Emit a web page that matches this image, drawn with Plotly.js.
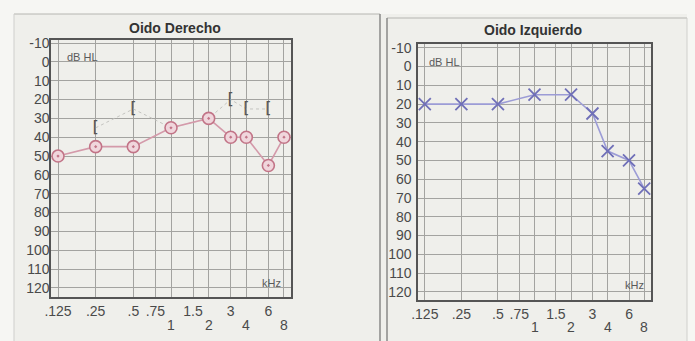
<!DOCTYPE html>
<html>
<head>
<meta charset="utf-8">
<script src="https://cdn.plot.ly/plotly-3.0.1.min.js"></script>
<style>html,body{margin:0;padding:0;background:#f6f6f3;}</style>
</head>
<body>
<div id="chart" style="width:695px;height:341px;"></div>
<script>
// ---- data ----
const freqKHz = [0.125, 0.25, 0.5, 1, 2, 3, 4, 6, 8];
const rightAir = [50, 45, 45, 35, 30, 40, 40, 55, 40];      // Oido Derecho (O)
const rightBoneFreq = [0.25, 0.5, 1, 2, 3, 4, 6];
const rightBone = [35, 25, 35, 30, 20, 25, 25];             // bone conduction ([)
const rightBoneSymbol = ['[', '[', '', '', '[', '[', '['];
const leftAir = [20, 20, 20, 15, 15, 25, 45, 50, 65];        // Oido Izquierdo (X)

const upperTickVals = [0.125, 0.25, 0.5, 0.75, 1, 1.5, 2, 3, 4, 6, 8];
const upperTickText = ['.125', '.25', '.5', '.75', '', '1.5', '', '3', '', '6', ''];
const lowerTickVals = [1, 2, 4, 8];
const lowerTickText = ['1', '2', '4', '8'];
const dbTicks = [-10, 0, 10, 20, 30, 40, 50, 60, 70, 80, 90, 100, 110, 120];
const dbTickText = ['-10', '0', '10', '20', '30', '40', '50', '60', '70', '80', '90', '100', '110', '120'];
const titles = ['Oido Derecho', 'Oido Izquierdo'];

// ---- layout helpers ----
const W = 695, H = 341;
const px = x => x / W;
const py = y => 1 - y / H;

const tickFont = {family: 'Liberation Sans, Arial, sans-serif', size: 14, color: '#4a4a4a'};
const gridColor = '#a3a3a0';
const lineColor = '#555555';
const xRange = [Math.log10(0.125) - 0.056, Math.log10(8) + 0.056];

function mainX(domain, anchor) {
  return {domain: domain, anchor: anchor, type: 'log', range: xRange,
    tickmode: 'array', tickvals: upperTickVals, ticktext: upperTickText,
    showgrid: true, gridcolor: gridColor, gridwidth: 1,
    showline: true, mirror: true, linecolor: lineColor, linewidth: 1.6,
    ticks: '', zeroline: false, tickfont: tickFont, ticklabelstandoff: 1, fixedrange: true};
}
function mainY(domain, anchor, range, standoff) {
  return {domain: domain, anchor: anchor, range: range,
    tickmode: 'array', tickvals: dbTicks, ticktext: dbTickText,
    showgrid: true, gridcolor: gridColor, gridwidth: 1,
    showline: true, mirror: true, linecolor: lineColor, linewidth: 1.6,
    ticks: '', zeroline: false, tickfont: tickFont, ticklabelstandoff: standoff, fixedrange: true};
}

const traces = [
  {x: rightBoneFreq, y: rightBone, xaxis: 'x', yaxis: 'y', mode: 'lines+text',
   text: rightBoneSymbol, textposition: 'middle center',
   textfont: {family: 'DejaVu Sans, sans-serif', size: 16, color: '#555555'},
   line: {color: '#c4c4c0', width: 1, dash: 'dot'}, hoverinfo: 'skip', showlegend: false},
  {x: freqKHz, y: rightAir, xaxis: 'x', yaxis: 'y', mode: 'lines+markers',
   line: {color: '#d49aaa', width: 1.6},
   marker: {symbol: 'circle-dot', size: 12, color: '#f0d6dc', line: {color: '#c27487', width: 1.6}},
   showlegend: false},
  {x: freqKHz, y: leftAir, xaxis: 'x2', yaxis: 'y2', mode: 'lines+markers',
   line: {color: '#9c9cd6', width: 1.6},
   marker: {symbol: 'x-thin-open', size: 12, color: '#6f6fb8', line: {color: '#6f6fb8', width: 1.8}},
   showlegend: false}
];

const shapes = [
  {type: 'rect', xref: 'paper', yref: 'paper', x0: px(14), x1: px(687), y0: py(341), y1: py(14),
   fillcolor: '#efefeb', line: {width: 0}, layer: 'below'},
  {type: 'line', xref: 'paper', yref: 'paper', x0: px(14), x1: px(380), y0: py(14), y1: py(14), line: {color: '#b5b5b2', width: 1.2}},
  {type: 'line', xref: 'paper', yref: 'paper', x0: px(387), x1: px(687), y0: py(18), y1: py(18), line: {color: '#b5b5b2', width: 1.2}},
  {type: 'line', xref: 'paper', yref: 'paper', x0: px(14), x1: px(14), y0: py(14), y1: py(341), line: {color: '#cfcfcc', width: 1}},
  {type: 'line', xref: 'paper', yref: 'paper', x0: px(380), x1: px(380), y0: py(14), y1: py(341), line: {color: '#8a8a88', width: 1.5}},
  {type: 'line', xref: 'paper', yref: 'paper', x0: px(387), x1: px(387), y0: py(18), y1: py(341), line: {color: '#8a8a88', width: 1.5}},
  {type: 'line', xref: 'paper', yref: 'paper', x0: px(687), x1: px(687), y0: py(18), y1: py(341), line: {color: '#cfcfcc', width: 1}}
];

const smallFont = {family: 'Liberation Sans, Arial, sans-serif', size: 11, color: '#5a5a5a'};
const titleFont = {family: 'Liberation Sans, Arial, sans-serif', size: 14, color: '#333333', weight: 'bold'};
const annotations = [
  {text: titles[0], xref: 'paper', yref: 'paper', x: px(175), y: py(28), xanchor: 'center', yanchor: 'middle', showarrow: false, font: titleFont},
  {text: titles[1], xref: 'paper', yref: 'paper', x: px(533), y: py(30), xanchor: 'center', yanchor: 'middle', showarrow: false, font: titleFont},
  {text: 'dB HL', xref: 'paper', yref: 'paper', x: px(65), y: py(57), xanchor: 'left', yanchor: 'middle', showarrow: false, font: smallFont},
  {text: 'dB HL', xref: 'paper', yref: 'paper', x: px(427), y: py(62), xanchor: 'left', yanchor: 'middle', showarrow: false, font: smallFont},
  {text: 'kHz', xref: 'paper', yref: 'paper', x: px(283), y: py(283), xanchor: 'right', yanchor: 'middle', showarrow: false, font: smallFont},
  {text: 'kHz', xref: 'paper', yref: 'paper', x: px(646), y: py(285), xanchor: 'right', yanchor: 'middle', showarrow: false, font: smallFont}
];
// lower row of frequency labels (1, 2, 4, 8) on both panels
[['x', 325], ['x2', 327]].forEach(([xr, yPix]) => {
  lowerTickVals.forEach((v, i) => {
    annotations.push({text: lowerTickText[i], xref: xr, yref: 'paper', x: Math.log10(v), y: py(yPix),
      xanchor: 'center', yanchor: 'middle', showarrow: false, font: tickFont});
  });
});

const layout = {
  width: W, height: H, autosize: false,
  margin: {l: 0, r: 0, t: 0, b: 0, pad: 0},
  paper_bgcolor: '#f6f6f3', plot_bgcolor: 'rgba(0,0,0,0)',
  showlegend: false,
  xaxis: mainX([px(51), px(291)], 'y'),
  yaxis: mainY([1 - 297 / H, 1 - 40 / H], 'x', [124.8, -11.6], -3),
  xaxis2: mainX([px(418), px(651)], 'y2'),
  yaxis2: mainY([1 - 300 / H, 1 - 44 / H], 'x2', [124.3, -12], 2),
  shapes: shapes,
  annotations: annotations
};

Plotly.newPlot('chart', traces, layout, {displayModeBar: false, staticPlot: true});
</script>
</body>
</html>
